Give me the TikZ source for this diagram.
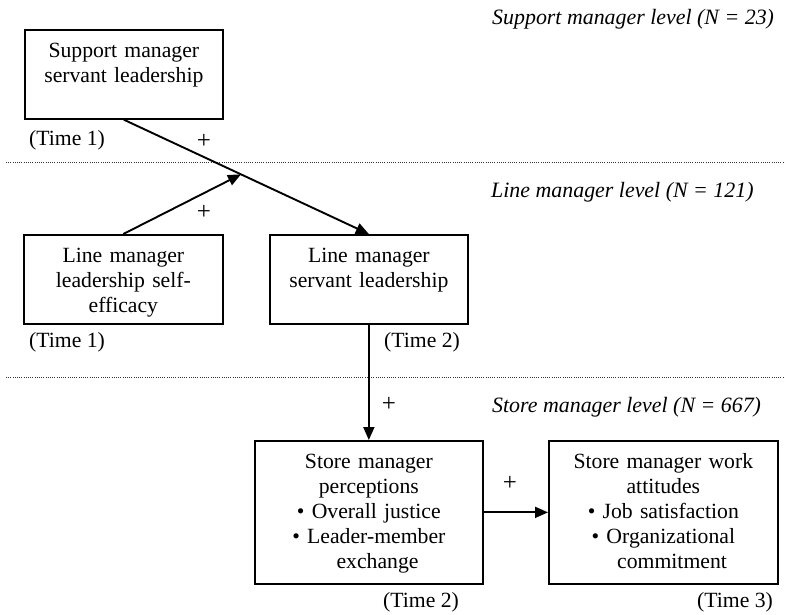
\documentclass[tikz,border=0pt]{standalone}
\usepackage{fontspec}
\setmainfont{Liberation Serif}
\usetikzlibrary{arrows.meta,calc}
\begin{document}
\begin{tikzpicture}[x=1pt,y=-1pt,
  font=\fontsize{21.7}{25}\selectfont,
  box/.style={draw, line width=1.7pt, inner sep=0pt, align=center, anchor=north west},
  arr/.style={line width=1.9pt, -{Triangle[length=13pt,width=11pt]}},
  sep/.style={line width=0.8pt, dash pattern=on 1pt off 1.2pt, black!80},
  lbl/.style={inner sep=0pt, anchor=base west},
  lvl/.style={inner sep=0pt, anchor=base west, font=\fontsize{21.9}{25}\selectfont\itshape},
  plus/.style={inner sep=0pt, font=\fontsize{25}{25}\selectfont}]
\useasboundingbox (0,0) rectangle (785,614);
% separators
\coordinate (s1a) at (6,162); \coordinate (s1b) at (785,162);
\coordinate (s2a) at (6,377); \coordinate (s2b) at (785,377);
\draw[sep] (s1a) -- (s1b);
\draw[sep] (s2a) -- (s2b);
% level labels
\node[lvl] (lv1) at (492,24) {Support manager level (N = 23)};
\node[lvl] (lv2) at (491,197) {Line manager level (N = 121)};
\node[lvl] (lv3) at (492,412) {Store manager level (N = 667)};
% boxes
\node[box, text width=198pt, text height=28pt, text depth=61pt] (sup) at (24,29)
  {Support manager\\servant leadership};
\node[box, text width=199pt, text height=28pt, text depth=61pt] (lse) at (23,234)
  {Line manager\\leadership self-\\efficacy};
\node[box, text width=198pt, text height=28pt, text depth=61pt] (lms) at (269,234)
  {Line manager\\servant leadership};
\node[box, text width=228pt, text height=28pt, text depth=115pt] (smp) at (254,440)
  {Store manager\\perceptions\\• Overall justice\\• Leader-member\\\hspace*{0.8em}exchange};
\node[box, text width=229pt, text height=28pt, text depth=115pt] (sma) at (548,440)
  {Store manager work\\attitudes\\• Job satisfaction\\• Organizational\\\hspace*{0.8em}commitment};
% time labels
\node[lbl] (t1a) at (29,145) {(Time 1)};
\node[lbl] (t1b) at (29,347) {(Time 1)};
\node[lbl] (t2a) at (384,347) {(Time 2)};
\node[lbl] (t2b) at (383,607) {(Time 2)};
\node[lbl] (t3) at (697,607) {(Time 3)};
% connectors
\draw[arr] (sup.south) -- (lms.north);
\coordinate (mod) at ($(sup.south)!0.478!(lms.north)$);
\draw[arr] (lse.north) -- (mod);
\draw[arr] (lms.south) -- (smp.north);
\draw[arr] (smp.east) -- (sma.west);
% signs
\node[plus] (p1) at (204,141) {+};
\node[plus] (p2) at (204,212) {+};
\node[plus] (p3) at (389,404) {+};
\node[plus] (p4) at (510,483) {+};
\end{tikzpicture}
\end{document}
